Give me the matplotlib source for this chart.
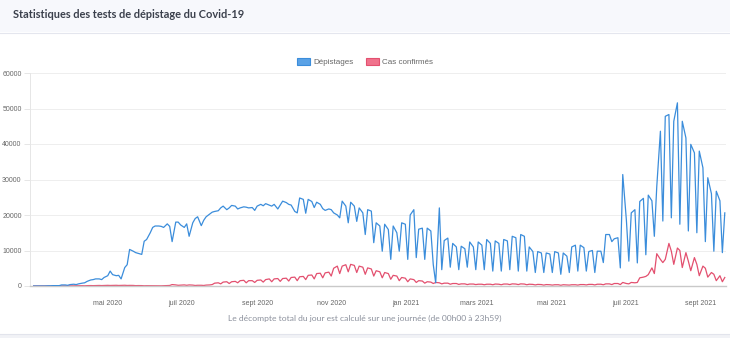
import numpy as np
import pandas as pd
import matplotlib
matplotlib.use("Agg")
import matplotlib.pyplot as plt
from matplotlib.patches import Patch, Rectangle
from matplotlib.lines import Line2D

# Relevés hebdomadaires : une valeur le dimanche, le mardi et le vendredi
PREMIER_DIMANCHE = "2020-03-01"
JOURS_RELEVES = [0, 2, 5]

DEPISTAGES = [
    0, 0, 0,              0, 0, 50,             50, 100, 100,
    100, 300, 300,        200, 400, 500,        400, 600, 800,
    900, 1300, 1700,      1800, 2000, 2000,     1800, 2400, 2900,
    4200, 3200, 2900,     3000, 2000, 5200,     6000, 10300, 9800,
    9400, 9200, 8900,     12600, 13100, 15000,  16500, 16900, 16900,
    16800, 16500, 17500,  16800, 12500, 18000,  18000, 17200, 16500,
    17500, 14000, 17800,  19000, 19500, 17000,  18500, 19500, 20300,
    20800, 21000, 21200,  22000, 22500, 21500,  22000, 22700, 22500,
    21700, 22000, 22300,  22200, 22000, 22100,  21300, 22500, 23000,
    22600, 23200, 22800,  22500, 23000, 21700,  22800, 23900, 23500,
    23000, 22800, 21000,  20600, 24800, 24400,  20500, 24400, 23800,
    22100, 23600, 23000,  21800, 21300, 21700,  21500, 20600, 20000,
    19200, 23900, 22500,  17800, 23600, 22500,  18200, 22000, 20600,
    14500, 21500, 21100,  12200, 17800, 16900,  9800, 17400, 15900,
    7500, 16900, 15000,   9800, 17800, 17400,   7500, 20000, 21500,
    8000, 16000, 16300,   7500, 16300, 15500,   6000, 900, 22000,
    4600, 12800, 13500,   5300, 12000, 11000,   4600, 11200, 10500,
    5300, 12400, 11000,   4600, 12400, 11500,   4600, 13100, 12000,
    4200, 12700, 12000,   4200, 13100, 12700,   4600, 14000, 13600,
    4200, 14500, 14000,   4200, 11000, 9700,    3800, 9700, 9300,
    3800, 9300, 9000,     3800, 9700, 9300,     3300, 9300, 8400,
    3800, 11000, 11500,   4200, 11500, 10800,   4200, 9700, 10000,
    3800, 9800, 9800,     6600, 14500, 14500,   12500, 13300, 13600,
    5100, 31400, 18500,   7000, 20600, 21500,   6500, 23800, 24700,
    8800, 25600, 24000,   14000, 28000, 43600,  18300, 47800, 48300,
    19200, 46400, 51600,  17400, 46400, 41700,  15500, 39900, 37500,
    15000, 38000, 33300,  12500, 30500, 26000,  9800, 26700, 24000,
    9400, 20600,
]

CAS_CONFIRMES = [
    0, 0, 0,              0, 0, 0,              0, 10, 10,
    10, 20, 30,           30, 40, 50,           40, 60, 80,
    60, 100, 120,         100, 130, 150,        120, 150, 180,
    150, 170, 190,        150, 180, 200,        150, 170, 160,
    100, 120, 110,        60, 80, 70,           50, 60, 60,
    50, 80, 100,          150, 400, 300,        200, 250, 300,
    200, 300, 250,        150, 200, 200,        150, 250, 300,
    400, 800, 900,        600, 1100, 1200,      700, 1200, 1300,
    900, 1500, 1600,      900, 1500, 1500,      1000, 1600, 1700,
    1100, 1800, 2000,     1200, 2000, 2100,     1300, 2100, 2200,
    1400, 2400, 2500,     1500, 2600, 2700,     1800, 3000, 3100,
    2000, 3500, 3600,     2300, 3700, 3900,     2800, 5000, 5600,
    3500, 5600, 6000,     4000, 6100, 5800,     3800, 5600, 5300,
    3300, 5100, 4800,     2800, 4300, 4000,     2300, 3800, 3500,
    1900, 3000, 2800,     1500, 2400, 2200,     1200, 2000, 1800,
    1000, 1500, 1400,     800, 1200, 1100,      700, 1000, 900,
    600, 800, 800,        500, 700, 700,        450, 600, 600,
    400, 550, 550,        400, 500, 500,        350, 500, 500,
    350, 550, 500,        350, 550, 550,        400, 600, 550,
    400, 600, 550,        350, 500, 450,        300, 450, 400,
    250, 400, 350,        250, 350, 350,        200, 350, 300,
    250, 350, 350,        250, 400, 400,        300, 450, 450,
    300, 500, 500,        350, 600, 600,        400, 700, 700,
    400, 1000, 700,       600, 1000, 900,       1000, 2300, 2500,
    2700, 3200, 5100,     3500, 9100, 7500,     6600, 7500, 12000,
    9800, 6100, 10700,    10000, 5200, 9400,    7000, 4300, 8000,
    6100, 2900, 5600,     5000, 2500, 3800,     3300, 1500, 2900,
    1200, 2400,
]

MOIS_TICKS = ["2020-05-01", "2020-07-01", "2020-09-01", "2020-11-01", "2021-01-01",
              "2021-03-01", "2021-05-01", "2021-07-01", "2021-09-01"]
MOIS_LABELS = ["mai 2020", "juil 2020", "sept 2020", "nov 2020", "jan 2021",
               "mars 2021", "mai 2021", "juil 2021", "sept 2021"]
Y_TICKS = [0, 10000, 20000, 30000, 40000, 50000, 60000]

TITRE = "Statistiques des tests de dépistage du Covid-19"
NOTE = "Le décompte total du jour est calculé sur une journée (de 00h00 à 23h59)"

BLEU = "#3b8ddb"
ROUGE = "#e3506f"


def dates_releves(n):
    n_sem = int(np.ceil(n / len(JOURS_RELEVES)))
    semaines = pd.date_range(PREMIER_DIMANCHE, periods=n_sem, freq="7D")
    offs = pd.to_timedelta(JOURS_RELEVES, unit="D")
    d = np.array([s + o for s in semaines for o in offs])
    return d[:n]


W, H = 730, 338
fig = plt.figure(figsize=(W / 100, H / 100), dpi=100)
fig.patch.set_facecolor("white")

# en-tête de la carte
fig.patches.append(Rectangle((0, 1 - 32 / H), 1, 32 / H, transform=fig.transFigure,
                             facecolor="#f7f8fc", edgecolor="none", zorder=0))
fig.add_artist(Line2D([0, 1], [1 - 32.5 / H] * 2, transform=fig.transFigure,
                      color="#e4e6ee", lw=0.8))
# pied de la carte
fig.patches.append(Rectangle((0, 0), 1, 4 / H, transform=fig.transFigure,
                             facecolor="#f1f2f6", edgecolor="none", zorder=0))
fig.add_artist(Line2D([0, 1], [4.5 / H] * 2, transform=fig.transFigure,
                      color="#e2e4ec", lw=0.8))

fig.text(13 / W, 1 - 15 / H, TITRE, fontsize=7.9, fontweight="bold", family="Lato",
         color="#3b404c", ha="left", va="center")
fig.text(365 / W, 1 - 318 / H, NOTE, fontsize=6.1, family="Lato",
         color="#8b909c", ha="center", va="center")

ax = fig.add_axes([30 / W, (H - 286) / H, (726 - 30) / W, (286 - 73) / H])

d_dep = dates_releves(len(DEPISTAGES))
d_cas = dates_releves(len(CAS_CONFIRMES))
ax.plot(d_cas, CAS_CONFIRMES, color=ROUGE, lw=0.9, zorder=2)
ax.plot(d_dep, DEPISTAGES, color=BLEU, lw=0.9, zorder=3)

ax.set_xlim(pd.Timestamp("2020-02-27"), pd.Timestamp("2021-09-22"))
ax.set_ylim(0, 60000)
ax.set_yticks(Y_TICKS)
ax.set_yticklabels([str(v) for v in Y_TICKS])
ax.set_xticks(pd.to_datetime(MOIS_TICKS))
ax.set_xticklabels(MOIS_LABELS)

ax.grid(axis="y", color="#eeeeee", lw=0.7)
ax.set_axisbelow(True)
for s in ["top", "right"]:
    ax.spines[s].set_visible(False)
ax.spines["left"].set_color("#e6e6e6")
ax.spines["left"].set_linewidth(0.7)
ax.spines["bottom"].set_color("#c9c9c9")
ax.spines["bottom"].set_linewidth(1.0)

ax.tick_params(axis="y", length=4, width=0.7, color="#e6e6e6", pad=2,
               labelsize=5, labelcolor="#666666")
ax.tick_params(axis="x", length=0, pad=10, labelsize=5, labelcolor="#666666")
for lab in ax.get_xticklabels() + ax.get_yticklabels():
    lab.set_family("Liberation Sans")

handles = [Patch(facecolor="#5aa2e6", edgecolor=BLEU, lw=0.8, label="Dépistages"),
           Patch(facecolor="#f0728c", edgecolor=ROUGE, lw=0.8, label="Cas confirmés")]
fig.legend(handles=handles, loc="center", bbox_to_anchor=(365 / W, 1 - 62 / H),
           ncol=2, frameon=False, handlelength=1.6, handleheight=0.9,
           handletextpad=0.4, columnspacing=1.6,
           prop={"family": "Liberation Sans", "size": 5.8}, labelcolor="#666666")

fig.savefig("out.png", dpi=100)
